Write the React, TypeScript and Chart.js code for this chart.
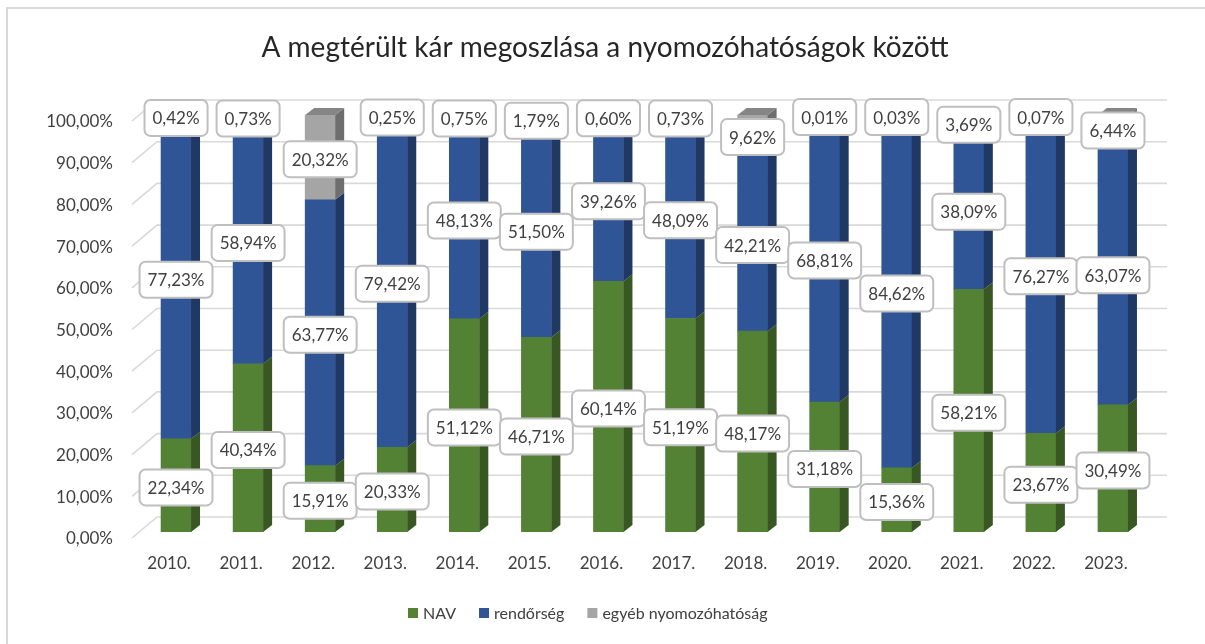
import React, { useEffect, useRef } from "react";
import { Chart, registerables } from "chart.js";

Chart.register(...registerables);

const titleText = "A megtérült kár megoszlása a nyomozóhatóságok között";
const categories = ["2010.", "2011.", "2012.", "2013.", "2014.", "2015.", "2016.", "2017.", "2018.", "2019.", "2020.", "2021.", "2022.", "2023."];
const seriesNames = ["NAV", "rendőrség", "egyéb nyomozóhatóság"];
const navValues = [22.34, 40.34, 15.91, 20.33, 51.12, 46.71, 60.14, 51.19, 48.17, 31.18, 15.36, 58.21, 23.67, 30.49];
const policeValues = [77.23, 58.94, 63.77, 79.42, 48.13, 51.5, 39.26, 48.09, 42.21, 68.81, 84.62, 38.09, 76.27, 63.07];
const otherValues = [0.42, 0.73, 20.32, 0.25, 0.75, 1.79, 0.6, 0.73, 9.62, 0.01, 0.03, 3.69, 0.07, 6.44];
const yTicks = [0, 10, 20, 30, 40, 50, 60, 70, 80, 90, 100];

const frontColors = ["#548235", "#2F5597", "#A5A5A5"];
const sideColors = ["#385723", "#1F3864", "#6E6E6E"];
const topColors = ["#43692A", "#26457A", "#858585"];

const FONT = "Lato, 'Open Sans', sans-serif";
const DEPTH_X = 9;
const DEPTH_Y = 7;

const fmt = (v: number) => v.toFixed(2).replace(".", ",") + "%";

const decorPlugin = {
  id: "decor3d",
  beforeDraw(chart: any) {
    const ctx = chart.ctx;
    ctx.save();
    ctx.fillStyle = "#ffffff";
    ctx.fillRect(0, 0, chart.width, chart.height);
    ctx.fillStyle = "#D9D9D9";
    ctx.fillRect(6, 7, chart.width - 6, 2);
    ctx.fillRect(6, 7, 2, chart.height - 7);
    ctx.restore();
  },
  beforeDatasetsDraw(chart: any) {
    const ctx = chart.ctx;
    const area = chart.chartArea;
    const yS = chart.scales.y;
    ctx.save();
    ctx.strokeStyle = "#D9D9D9";
    ctx.lineWidth = 1.6;
    for (const v of yTicks) {
      const yf = yS.getPixelForValue(v);
      const yb = yf - 15;
      ctx.beginPath();
      ctx.moveTo(area.left - 8, yf + 6);
      ctx.lineTo(area.left + 17, yb);
      ctx.lineTo(area.right + 18, yb);
      ctx.stroke();
    }
    ctx.restore();
  },
  afterDatasetsDraw(chart: any) {
    const ctx = chart.ctx;
    ctx.save();
    const n = categories.length;
    const metas = [0, 1, 2].map((d) => chart.getDatasetMeta(d));
    for (let i = 0; i < n; i++) {
      for (let d = 0; d < 3; d++) {
        const el: any = metas[d].data[i];
        if (!el) continue;
        const xr = el.x + el.width / 2;
        ctx.fillStyle = sideColors[d];
        ctx.beginPath();
        ctx.moveTo(xr, el.y);
        ctx.lineTo(xr + DEPTH_X, el.y - DEPTH_Y);
        ctx.lineTo(xr + DEPTH_X, el.base - DEPTH_Y);
        ctx.lineTo(xr, el.base);
        ctx.closePath();
        ctx.fill();
      }
      const top: any = metas[2].data[i];
      const xl = top.x - top.width / 2;
      const xr = top.x + top.width / 2;
      ctx.fillStyle = topColors[2];
      ctx.beginPath();
      ctx.moveTo(xl, top.y);
      ctx.lineTo(xl + DEPTH_X, top.y - DEPTH_Y);
      ctx.lineTo(xr + DEPTH_X, top.y - DEPTH_Y);
      ctx.lineTo(xr, top.y);
      ctx.closePath();
      ctx.fill();
    }
    ctx.font = "17px " + FONT;
    ctx.textAlign = "center";
    ctx.textBaseline = "middle";
    const data = [navValues, policeValues, otherValues];
    for (let d = 0; d < 3; d++) {
      for (let i = 0; i < n; i++) {
        const el: any = metas[d].data[i];
        const txt = fmt(data[d][i]);
        const tw = ctx.measureText(txt).width;
        const w = tw + 16;
        const h = 36;
        const cx = el.x;
        let cy = (el.y + el.base) / 2 + 2;
        if (cy < 117) cy = 117;
        const x0 = cx - w / 2;
        const y0 = cy - h / 2;
        ctx.beginPath();
        ctx.roundRect(x0, y0, w, h, 6);
        ctx.fillStyle = "#ffffff";
        ctx.fill();
        ctx.lineWidth = 2;
        ctx.strokeStyle = "#BFBFBF";
        ctx.stroke();
        ctx.fillStyle = "#404040";
        ctx.fillText(txt, cx, cy + 1);
      }
    }
    ctx.restore();
  },
  afterDraw(chart: any) {
    const ctx = chart.ctx;
    ctx.save();
    ctx.fillStyle = "#262626";
    ctx.font = "28px " + FONT;
    ctx.textAlign = "center";
    ctx.textBaseline = "middle";
    ctx.fillText(titleText, 605, 48);

    ctx.font = "16px " + FONT;
    ctx.textAlign = "left";
    let x = 408;
    const y = 613;
    for (let d = 0; d < 3; d++) {
      ctx.fillStyle = frontColors[d];
      ctx.fillRect(x, y - 5, 10, 10);
      ctx.fillStyle = "#404040";
      ctx.fillText(seriesNames[d], x + 15, y + 1);
      x += 15 + ctx.measureText(seriesNames[d]).width + 23;
    }
    ctx.restore();
  },
};

export default function App() {
  const ref = useRef<HTMLCanvasElement | null>(null);
  useEffect(() => {
    if (!ref.current) return;
    const chart = new Chart(ref.current, {
      type: "bar",
      data: {
        labels: categories,
        datasets: [
          { label: seriesNames[0], data: navValues, backgroundColor: frontColors[0], borderWidth: 0, barThickness: 30 },
          { label: seriesNames[1], data: policeValues, backgroundColor: frontColors[1], borderWidth: 0, barThickness: 30 },
          { label: seriesNames[2], data: otherValues, backgroundColor: frontColors[2], borderWidth: 0, barThickness: 30 },
        ],
      },
      options: {
        animation: false,
        responsive: false,
        devicePixelRatio: 1,
        layout: { padding: { left: 47, right: 56, top: 115, bottom: 0 } },
        plugins: {
          legend: { display: false },
          title: { display: false },
          tooltip: { enabled: false },
        },
        scales: {
          x: {
            stacked: true,
            grid: { display: false, drawTicks: false },
            border: { display: false },
            ticks: {
              color: "#404040",
              font: { family: FONT, size: 17 },
              padding: 21,
              labelOffset: -7,
              maxRotation: 0,
              autoSkip: false,
            },
            afterFit: (s: any) => {
              s.height = 112;
            },
          },
          y: {
            stacked: true,
            min: 0,
            max: 100,
            grid: { display: false, drawTicks: false },
            border: { display: false },
            ticks: {
              stepSize: 10,
              color: "#404040",
              font: { family: FONT, size: 17 },
              padding: 27,
              labelOffset: 7,
              callback: (v: any) => fmt(Number(v)),
            },
            afterFit: (s: any) => {
              s.width = 93;
            },
          },
        },
      },
      plugins: [decorPlugin],
    });
    return () => chart.destroy();
  }, []);
  return (
    <div style={{ position: "absolute", left: 0, top: 0, width: 1205, height: 644 }}>
      <canvas ref={ref} width={1205} height={644} style={{ display: "block" }} />
    </div>
  );
}
